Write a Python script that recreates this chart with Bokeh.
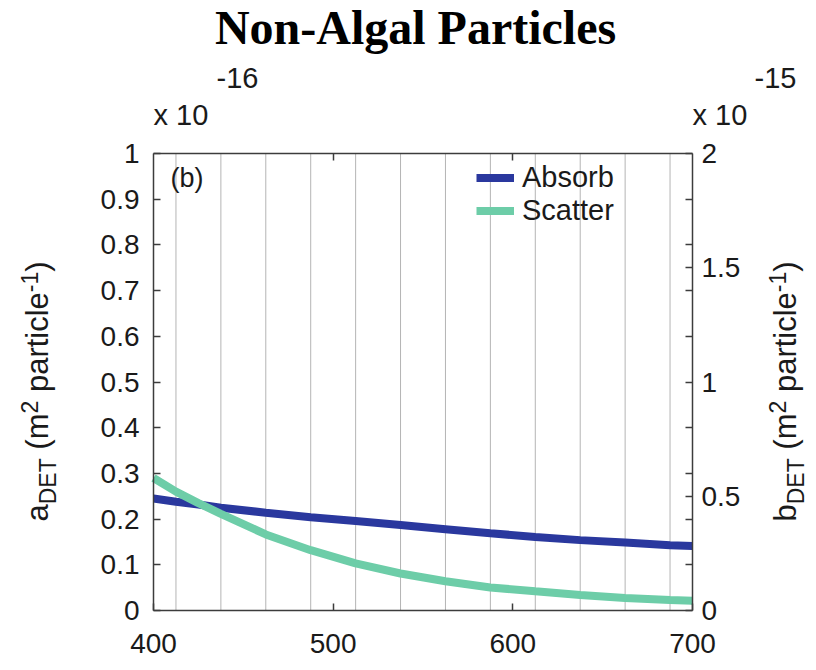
import math
from bokeh.plotting import figure
from bokeh.models import Range1d, LinearAxis, FixedTicker, Label
from bokeh.embed import file_html
from bokeh.resources import INLINE

# ---------------- data ----------------
wavelength = [400, 412.5, 425, 437.5, 462.5, 487.5, 512.5, 537.5, 562.5, 587.5, 612.5, 637.5, 662.5, 687.5, 700]
absorb = [0.245, 0.238, 0.232, 0.225, 0.214, 0.204, 0.196, 0.187, 0.178, 0.169, 0.161, 0.154, 0.149, 0.143, 0.141]   # x 1e-16
scatter = [0.58, 0.52, 0.47, 0.423, 0.333, 0.264, 0.206, 0.162, 0.128, 0.101, 0.084, 0.068, 0.055, 0.046, 0.043]     # x 1e-15

x_ticks = [400, 500, 600, 700]
x_tick_labels = ["400", "500", "600", "700"]
left_ticks = [0, 0.1, 0.2, 0.3, 0.4, 0.5, 0.6, 0.7, 0.8, 0.9, 1]
left_tick_labels = ["0", "0.1", "0.2", "0.3", "0.4", "0.5", "0.6", "0.7", "0.8", "0.9", "1"]
right_ticks = [0, 0.5, 1, 1.5, 2]
right_tick_labels = ["0", "0.5", "1", "1.5", "2"]
right_minor = [0.2, 0.4, 0.6, 0.8, 1.2, 1.4, 1.6, 1.8]
top_ticks = [500, 600]
grid_lines = [412.5, 437.5, 462.5, 487.5, 512.5, 537.5, 562.5, 587.5, 612.5, 637.5, 662.5, 687.5]

X_MIN, X_MAX = 400, 700
YL_MIN, YL_MAX = 0, 1
YR_MIN, YR_MAX = 0, 2

# ---------------- layout ----------------
W, H = 816, 670
FL, FR, FT, FB = 153, 692, 153, 610  # where the data box sits, in px
MID = 0.35  # distance (em) from the alphabetic baseline up to the text-box middle


def X(px):
    return X_MIN + (px - FL) * (X_MAX - X_MIN) / float(FR - FL)


def Y(py):
    return YL_MIN + (FB - py) * (YL_MAX - YL_MIN) / float(FB - FT)


SANS = "Liberation Sans"
TICK_FS = "28px"
BLUE = "#2a389e"
TEAL = "#6dcda8"
EDGE = "#3c3c3c"
INK = "#1a1a1a"

# the frame covers the whole canvas so that every text can be drawn unclipped;
# the data box is drawn by four fixed-location axes
p = figure(width=W, height=H, x_range=Range1d(X(0), X(W)), y_range=Range1d(Y(H), Y(0)),
           output_backend="svg", toolbar_location=None, title=None, min_border=0)
p.extra_y_ranges = {"right": Range1d(Y(H) * YR_MAX / YL_MAX, Y(0) * YR_MAX / YL_MAX)}
p.background_fill_color = "white"
p.border_fill_color = "white"
p.outline_line_color = None


def style_axis(ax, fs=TICK_FS):
    ax.major_label_text_font = SANS
    ax.major_label_text_font_size = fs
    ax.major_label_text_color = INK
    ax.axis_line_color = EDGE
    ax.axis_line_width = 1.5
    ax.major_tick_line_color = EDGE
    ax.major_tick_line_width = 1.5
    ax.minor_tick_line_color = EDGE
    ax.minor_tick_line_width = 1.5
    ax.major_tick_out = 0
    ax.major_tick_in = 7
    ax.minor_tick_out = 0
    ax.minor_tick_in = 0


# bottom axis
xa = p.xaxis[0]
xa.ticker = FixedTicker(ticks=x_ticks)
xa.major_label_overrides = dict(zip(x_ticks, x_tick_labels))
xa.fixed_location = YL_MIN
xa.bounds = (X_MIN, X_MAX)
style_axis(xa)
xa.major_label_standoff = 23

# left axis
ya = p.yaxis[0]
ya.ticker = FixedTicker(ticks=left_ticks)
ya.major_label_overrides = dict(zip(left_ticks, left_tick_labels))
ya.fixed_location = X_MIN
ya.bounds = (YL_MIN, YL_MAX)
style_axis(ya)
ya.major_label_standoff = 14

# right axis
ra = LinearAxis(y_range_name="right",
                ticker=FixedTicker(ticks=right_ticks, minor_ticks=right_minor),
                fixed_location=X_MAX, bounds=(YR_MIN, YR_MAX))
ra.major_label_overrides = dict(zip(right_ticks, right_tick_labels))
style_axis(ra)
ra.minor_tick_in = 7
ra.major_label_standoff = 9
p.add_layout(ra, "right")

# top axis (ticks only, no labels)
ta = LinearAxis(ticker=FixedTicker(ticks=top_ticks), fixed_location=YL_MAX, bounds=(X_MIN, X_MAX))
style_axis(ta)
ta.major_label_overrides = {t: "" for t in top_ticks}
ta.major_label_standoff = 0
p.add_layout(ta, "above")

# grid (vertical lines inside the data box)
p.xgrid.visible = False
p.ygrid.visible = False
p.segment(x0=grid_lines, y0=[YL_MIN] * len(grid_lines), x1=grid_lines, y1=[YL_MAX] * len(grid_lines),
          line_color="#b4b4b4", line_width=1)

# lines
p.line(wavelength, absorb, line_color=BLUE, line_width=8, legend_label="Absorb")
p.line(wavelength, scatter, line_color=TEAL, line_width=8, legend_label="Scatter", y_range_name="right")

lg = p.legend[0]
lg.location = (476, H - 227)
lg.border_line_alpha = 0
lg.background_fill_alpha = 0
lg.padding = 0
lg.margin = 0
lg.spacing = 0
lg.glyph_width = 38
lg.glyph_height = 33
lg.label_height = 33
lg.label_standoff = 8
lg.label_text_font = SANS
lg.label_text_font_size = "29px"
lg.label_text_color = INK


def text_label(xp, base_py, text, fs, font=SANS, **kw):
    """Horizontal text whose alphabetic baseline lies at pixel row base_py."""
    p.add_layout(Label(x=X(xp), y=Y(base_py - MID * fs), text=text, text_font=font,
                       text_font_size="%dpx" % fs, text_baseline="middle", **kw))


# panel tag
text_label(170, 187, "(b)", 27, text_color=INK, text_align="left")

# title
text_label(415, 44, "Non-Algal Particles", 48, font="Liberation Serif",
           text_font_style="bold", text_color="black", text_align="center")

# exponent labels
for (xp, yp, t) in [(153, 125, "x 10"), (216, 88, "-16"), (692, 125, "x 10"), (754, 88, "-15")]:
    text_label(xp, yp, t, 29, text_color=INK, text_align="left")

# rotated axis labels with sub/superscripts
WIDTHS = {" ": 0.278, "(": 0.333, ")": 0.333, "a": 0.556, "b": 0.556, "c": 0.5, "e": 0.556, "i": 0.222,
          "l": 0.222, "m": 0.833, "p": 0.556, "r": 0.333, "t": 0.278, "D": 0.722, "E": 0.667,
          "T": 0.611, "1": 0.556, "2": 0.556, "-": 0.333}


def text_w(s, fs):
    return sum(WIDTHS[c] for c in s) * fs


def rotated_label(first, base_x, start_y, F=31, S=23):
    # (text, size, baseline shift in px, gap before in em of the main size)
    pieces = [(first, F, 0, 0), ("DET", S, 8, 0), ("(m", F, 0, 0.278), ("2", S, -11, 0),
              ("particle", F, 0, 0.278), ("-1", S, -11, 0), (")", F, 0, 0)]
    y = start_y
    for s, fs, dx, gap in pieces:
        y -= gap * F
        bx = base_x + dx
        p.add_layout(Label(x=X(bx - MID * fs), y=Y(y), text=s, text_font=SANS,
                           text_font_size="%dpx" % fs, text_color=INK, angle=math.pi / 2,
                           text_align="left", text_baseline="middle"))
        y -= text_w(s, fs)


rotated_label("a", 48, 521)
rotated_label("b", 796, 521)

open("out.html", "w").write(file_html(p, INLINE))
